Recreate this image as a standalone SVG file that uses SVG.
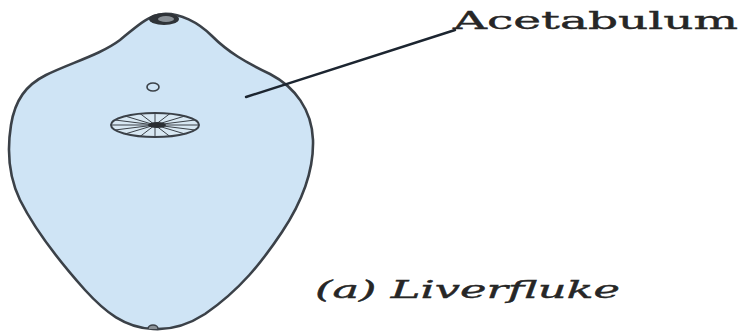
<svg xmlns="http://www.w3.org/2000/svg" width="744" height="333" viewBox="0 0 744 333">
  <style>
    .body { fill: #cfe4f5; stroke: #3b4148; stroke-width: 2.6; stroke-linejoin: round; }
    .organ { fill: none; stroke: #3b4148; stroke-width: 1.6; }
    .spoke { stroke: #3b4148; stroke-width: 1; }
    .label { font-family: "DejaVu Serif", "Liberation Serif", serif; fill: #262626; stroke: #262626; stroke-width: 0.4; }
    .leader { stroke: #1c2530; stroke-width: 2.4; fill: none; stroke-linecap: round; }
  </style>
  <rect width="744" height="333" fill="#ffffff"/>

  <g id="liverfluke">
    <!-- body outline -->
    <path class="body" d="M 163,14
      C 180,13 198,22 212,36
      C 228,52 245,62 270,74
      C 295,87 312,110 313,140
      C 314,175 300,205 282,232
      C 262,262 240,290 205,314
      C 188,325 170,330 153,329
      C 125,328 105,312 85,290
      C 60,262 35,230 20,200
      C 8,175 7,150 11,125
      C 15,100 26,85 46,75
      C 70,63 100,55 120,40
      C 135,28 148,15 163,14 Z"/>
    <!-- oral sucker -->
    <ellipse cx="164" cy="19" rx="15" ry="6" fill="#2f3338"/>
    <ellipse cx="166" cy="19" rx="8" ry="3" fill="#8a9096"/>
    <!-- excretory pore -->
    <path d="M 148,329 A 5 4 0 0 1 158,329" fill="#8a9096" stroke="#3b4148" stroke-width="1.5"/>
    <!-- genital pore -->
    <ellipse class="organ" cx="153" cy="87" rx="6" ry="4"/>
  </g>

  <g id="acetabulum">
    <ellipse cx="155" cy="125" rx="44" ry="12" fill="#d8e8f3" stroke="#3b4148" stroke-width="2"/>
    <g class="spoke">
      <line x1="155" y1="125" x2="199" y2="125"/>
      <line x1="155" y1="125" x2="195" y2="130"/>
      <line x1="155" y1="125" x2="185" y2="134"/>
      <line x1="155" y1="125" x2="170" y2="136.5"/>
      <line x1="155" y1="125" x2="155" y2="137"/>
      <line x1="155" y1="125" x2="140" y2="136.5"/>
      <line x1="155" y1="125" x2="125" y2="134"/>
      <line x1="155" y1="125" x2="115" y2="130"/>
      <line x1="155" y1="125" x2="111" y2="125"/>
      <line x1="155" y1="125" x2="115" y2="120"/>
      <line x1="155" y1="125" x2="125" y2="116"/>
      <line x1="155" y1="125" x2="140" y2="113.5"/>
      <line x1="155" y1="125" x2="155" y2="113"/>
      <line x1="155" y1="125" x2="170" y2="113.5"/>
      <line x1="155" y1="125" x2="185" y2="116"/>
      <line x1="155" y1="125" x2="195" y2="120"/>
    </g>
    <ellipse cx="157" cy="125" rx="9" ry="3" fill="#2a2e33"/>
  </g>

  <g id="connectors">
    <line class="leader" x1="246" y1="97" x2="455" y2="30"/>
  </g>

  <g id="labels">
    <text class="label" x="453" y="29" font-size="25" textLength="285" lengthAdjust="spacingAndGlyphs">Acetabulum</text>
    <text class="label" x="315" y="298" font-size="24" font-style="italic" textLength="305" lengthAdjust="spacingAndGlyphs">(a) Liverfluke</text>
  </g>
</svg>
